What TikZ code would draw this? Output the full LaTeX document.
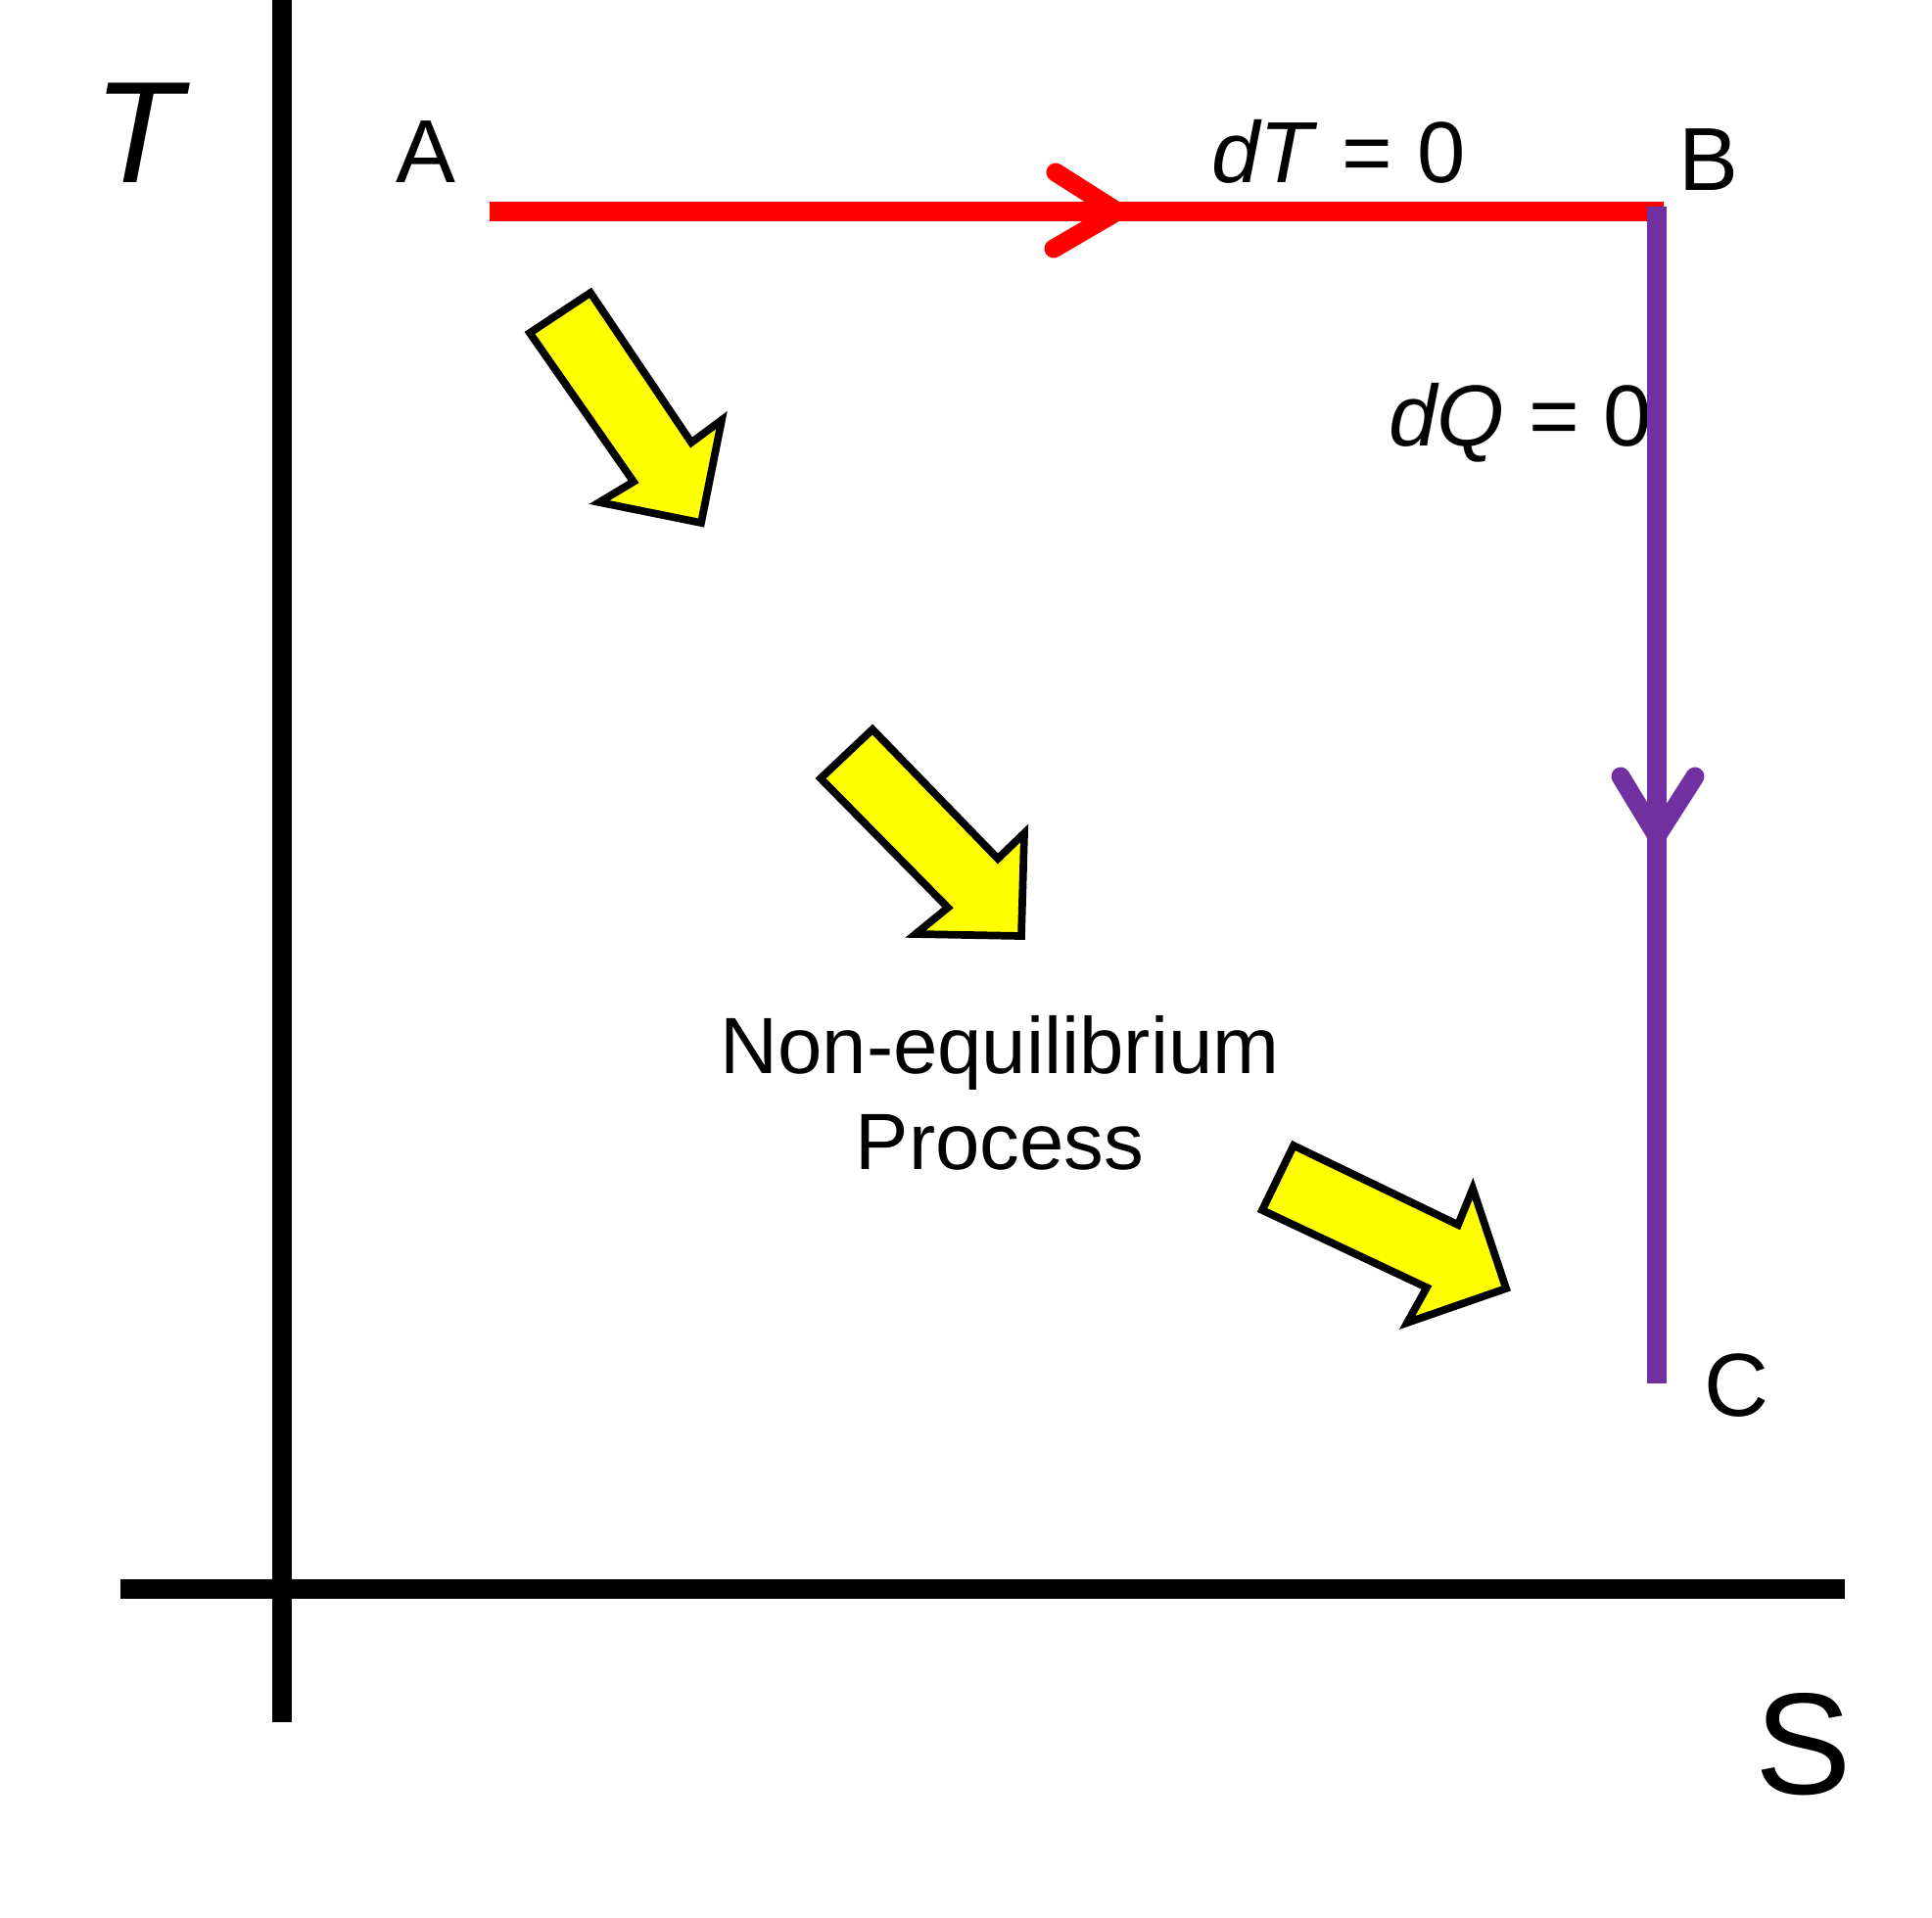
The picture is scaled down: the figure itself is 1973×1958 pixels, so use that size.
\documentclass[tikz,border=0pt]{standalone}
\usepackage{fontspec}
\setmainfont{Liberation Sans}
\usetikzlibrary{calc}
\definecolor{cisot}{RGB}{255,0,0}
\definecolor{cadia}{RGB}{112,48,160}
\definecolor{cblock}{RGB}{255,255,0}

\begin{document}
\begin{tikzpicture}[
  x=0.1mm,y=-0.1mm,
  axis/.style={black,line width=2mm},
  procline/.style={line width=2mm},
  chev/.style={line width=1.9mm,line cap=round,line join=round},
  blockarrow/.style={draw=black,fill=cblock,line width=2.2pt,line join=miter},
  lbl/.style={inner sep=0pt,font=\fontsize{26}{31}\selectfont},
  eqlbl/.style={inner sep=0pt,font=\fontsize{25.2}{30}\selectfont},
  axlbl/.style={inner sep=0pt,font=\fontsize{42}{50}\selectfont},
  midlbl/.style={inner sep=0pt,font=\fontsize{23.2}{28}\selectfont},
]
\useasboundingbox (0,0) rectangle (1973,1958);

% ======================= axes =======================
\coordinate (ybot) at (288,1759);
\coordinate (ytop) at (288,0);
\coordinate (xleft) at (123,1623);
\coordinate (xright) at (1884,1623);
\draw[axis] (ybot) -- (ytop);
\draw[axis] (xleft) -- (xright);
\node[axlbl,anchor=base] (Tlab) at (145,186) {\textit{T}};
\node[axlbl,anchor=base west] (Slab) at (1792,1832) {S};

% ======================= state labels =======================
\node[lbl,anchor=base west] (Alab) at (404,186) {A};
\node[lbl,anchor=base west] (Blab) at (1714,194) {B};
\node[lbl,anchor=base west] (Clab) at (1740,1446) {C};
\node[eqlbl,anchor=base west] (dT) at (1237,186) {\textit{dT} = 0};
\node[eqlbl,anchor=base west] (dQ) at (1418,455) {\textit{dQ} = 0};

% ======================= A -> B (isothermal) =======================
\coordinate (A) at (500,216);
\coordinate (B) at (1699,216);
\draw[cisot,procline] (A) -- (B);
\coordinate (redtip) at (1141,216);
\draw[cisot,chev] ($(redtip)+(-63,-40)$) -- (redtip) -- ($(redtip)+(-65,38)$);

% ======================= B -> C (adiabatic) =======================
\coordinate (Btop) at (1692,211);
\coordinate (C) at (1692,1413);
\draw[cadia,procline] (Btop) -- (C);
\coordinate (purtip) at (1692,854);
\draw[cadia,chev] ($(purtip)+(-37,-61)$) -- (purtip) -- ($(purtip)+(39,-61)$);

% ======================= non-equilibrium path =======================
\draw[blockarrow] (541,340) -- (603,299) -- (706,452) -- (737,429) -- (716,534) -- (612,513) -- (647,492) -- cycle;
\draw[blockarrow] (838,795) -- (891,745) -- (1019,877) -- (1046,851) -- (1043,956) -- (935,954) -- (968,927) -- cycle;
\draw[blockarrow] (1289,1236) -- (1321,1170) -- (1489,1251) -- (1504,1214) -- (1538,1316) -- (1437,1351) -- (1457,1315) -- cycle;

\node[midlbl,anchor=base] (noneq) at (1021,1096) {Non-equilibrium};
\node[midlbl,anchor=base] (process) at (1021,1194) {Process};

\end{tikzpicture}
\end{document}
